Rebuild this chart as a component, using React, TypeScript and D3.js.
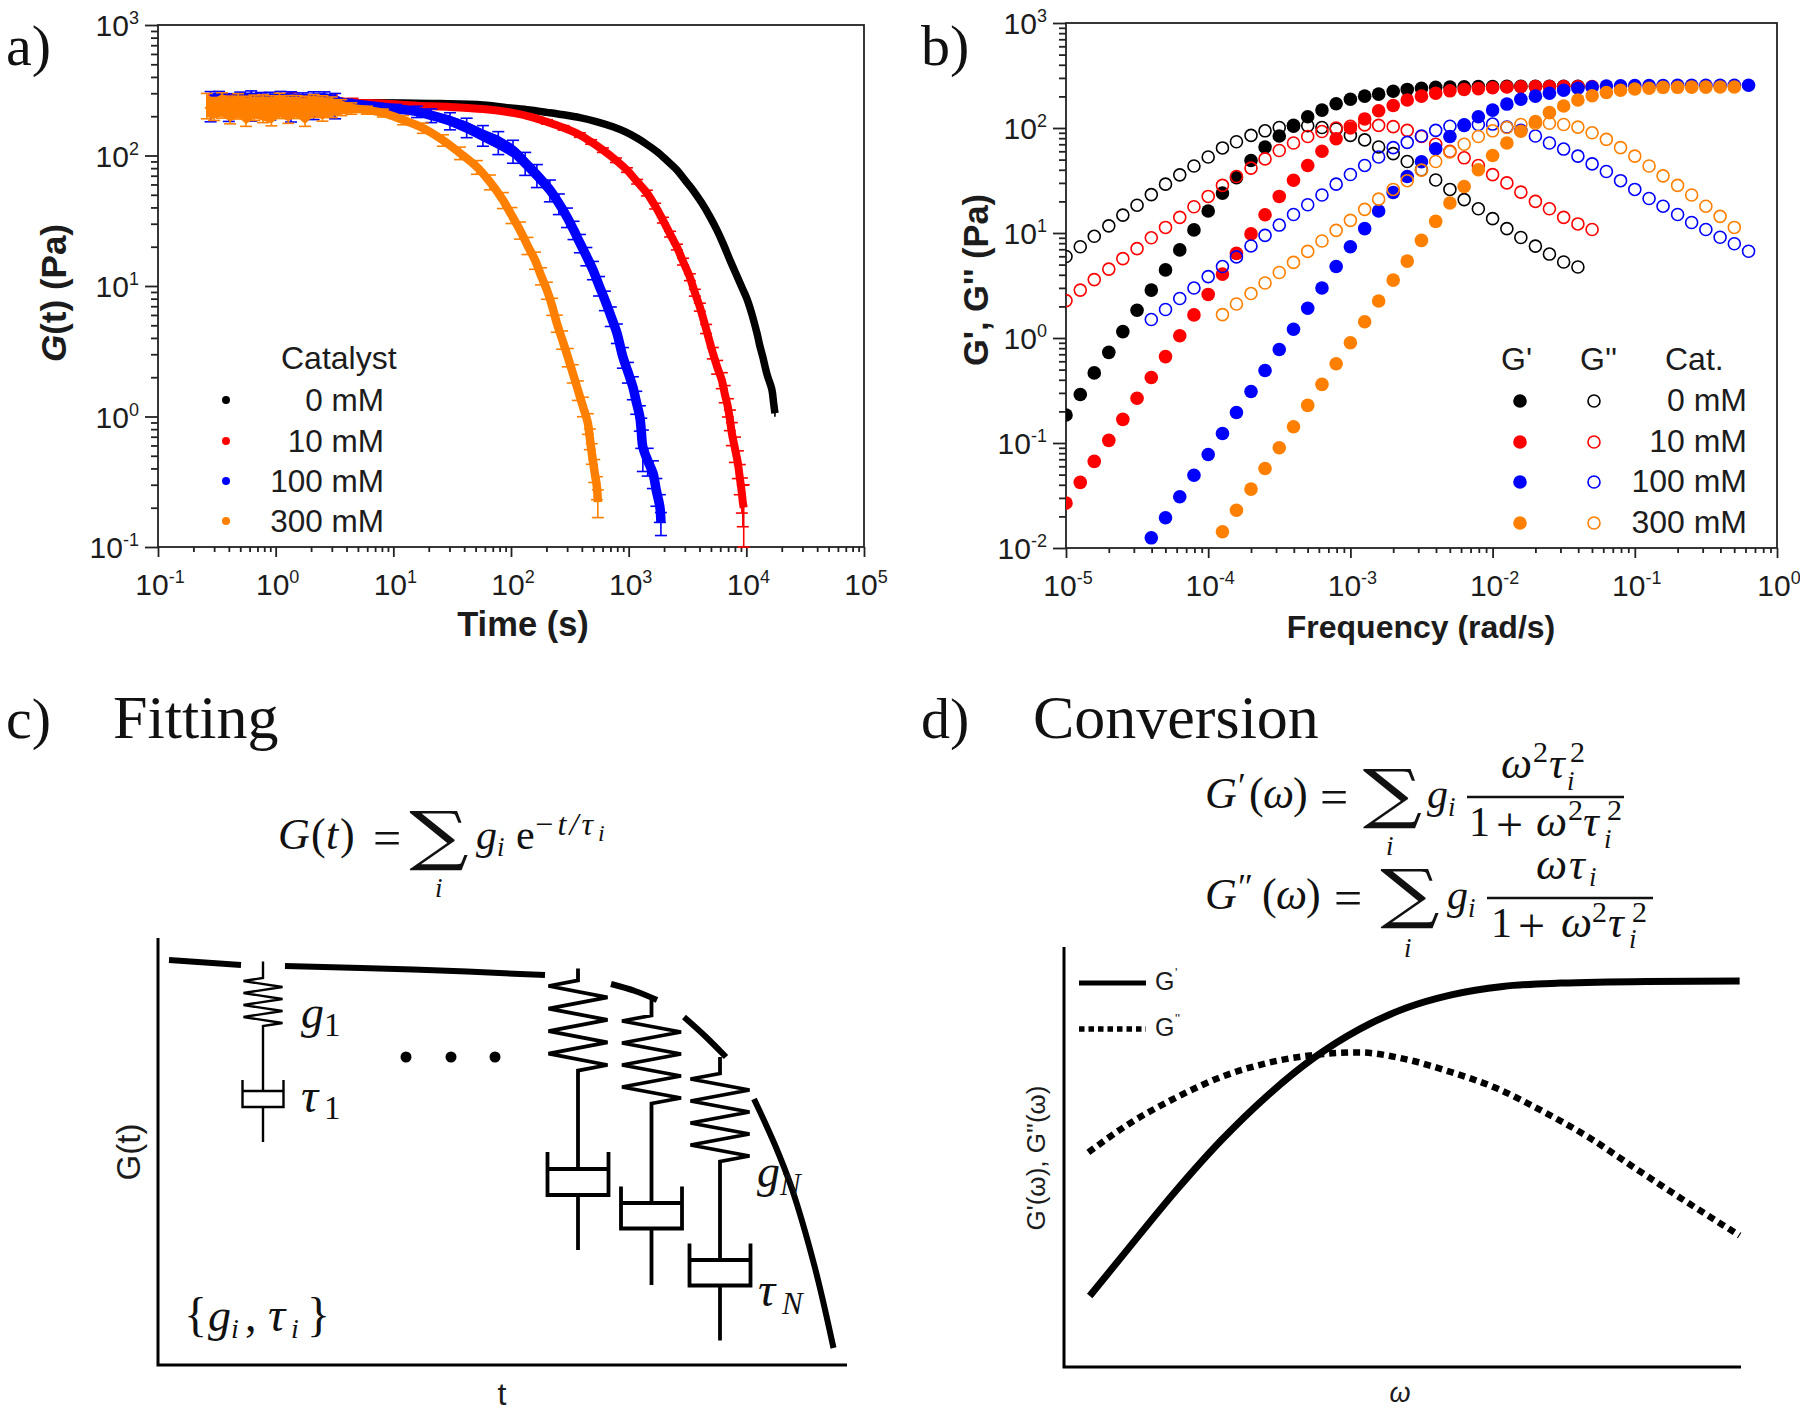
import * as d3 from 'd3';
import { useEffect, useRef } from 'react';

const SANS = '"Liberation Sans", Arial, sans-serif';
const SERIF = '"Liberation Serif", "Times New Roman", serif';
const INK = '#1c1c1c';

const catalystLabels = ['0 mM', '10 mM', '100 mM', '300 mM'];
const catalystColors = ['#000000', '#ff0000', '#0000ff', '#ff8000'];

// panel a: stress relaxation
const timeBlack = [0.3, 0.4, 0.55, 0.75, 1, 1.4, 2, 3, 4.5, 7, 12, 25, 57.7, 104, 150, 202, 280, 385, 530, 734, 950, 1175, 1420, 1738, 2100, 2570, 3000, 3510, 4200, 4900, 5600, 6310, 7300, 8300, 9200, 10100, 11200, 12300, 13000, 13800, 15000, 16500, 17000, 17500];
const gBlack = [258, 262, 250, 262, 255, 260, 250, 256, 254, 254, 252, 250, 244, 230, 222, 214, 205, 195, 182, 166, 151, 136, 122, 107, 92, 77.4, 65, 54.5, 43, 34, 27, 21.4, 15.6, 12, 9.7, 8, 6, 4.37, 3.5, 2.86, 2.1, 1.6, 1.3, 1.06];
const errBlack = [0.14, 0.12, 0.14, 0.1, 0.14, 0.12, 0.14, 0.1, 0.08, 0.05, 0.03, 0.02, 0.02, 0.02, 0.02, 0.02, 0.02, 0.02, 0.02, 0.02, 0.02, 0.02, 0.02, 0.02, 0.02, 0.02, 0.02, 0.02, 0.02, 0.02, 0.02, 0.02, 0.03, 0.03, 0.03, 0.03, 0.03, 0.03, 0.04, 0.04, 0.05, 0.06, 0.06, 0.06];

const timeRed = [0.3, 0.4, 0.55, 0.75, 1, 1.4, 2, 3, 4.5, 8.2, 15.9, 30.3, 57.7, 104, 150, 202, 280, 385, 480, 604, 780, 966, 1180, 1429, 1680, 1954, 2250, 2570, 2900, 3311, 3650, 4027, 4550, 5190, 5650, 6190, 6550, 6970, 7250, 7530, 8000, 8470, 8800, 9160, 9330, 9500];
const gRed = [255, 262, 250, 258, 256, 268, 252, 260, 254, 250, 241, 235.5, 227, 212, 197, 181, 163, 143.6, 127, 110, 92, 77.4, 63, 51.6, 41, 32, 25, 19.9, 15.4, 11.7, 8.9, 6.9, 4.7, 3.07, 2.4, 1.9, 1.5, 1.18, 0.95, 0.748, 0.57, 0.44, 0.34, 0.26, 0.22, 0.2];
const errRed = [0.14, 0.12, 0.16, 0.14, 0.12, 0.13, 0.14, 0.12, 0.08, 0.04, 0.03, 0.03, 0.03, 0.03, 0.03, 0.04, 0.04, 0.04, 0.04, 0.04, 0.04, 0.04, 0.04, 0.05, 0.05, 0.05, 0.05, 0.05, 0.06, 0.06, 0.06, 0.07, 0.08, 0.1, 0.12, 0.14, 0.15, 0.16, 0.18, 0.2, 0.22, 0.24, 0.26, 0.3, 0.35, 0.5];

const timeBlue = [0.28, 0.33, 0.4, 0.5, 0.62, 0.75, 0.9, 1.1, 1.35, 1.7, 2.1, 2.6, 3.2, 4.04, 5.5, 7.26, 10.5, 15.9, 21, 30.3, 42, 57.7, 78, 104, 132, 166, 214, 255, 299, 340, 385, 437, 497, 560, 628, 705, 794, 893, 985, 1086, 1160, 1245, 1280, 1320, 1450, 1607, 1720, 1841, 1880];
const gBlue = [245, 258, 240, 255, 248, 262, 246, 258, 244, 260, 248, 256, 245, 250, 244, 237, 228, 217, 203, 185, 165, 143.6, 127, 109, 88, 71, 54.5, 43, 33.8, 27, 21.4, 17, 13.3, 10.1, 7.8, 5.9, 4.37, 2.86, 2.2, 1.68, 1.3, 0.99, 0.77, 0.583, 0.46, 0.369, 0.27, 0.203, 0.153];
const errBlue = [0.26, 0.2, 0.24, 0.2, 0.26, 0.16, 0.24, 0.2, 0.26, 0.16, 0.24, 0.2, 0.22, 0.08, 0.06, 0.06, 0.08, 0.1, 0.12, 0.15, 0.17, 0.18, 0.2, 0.2, 0.2, 0.2, 0.19, 0.18, 0.17, 0.16, 0.16, 0.16, 0.16, 0.17, 0.17, 0.17, 0.17, 0.18, 0.18, 0.2, 0.2, 0.22, 0.26, 0.35, 0.24, 0.24, 0.24, 0.24, 0.2];

const timeOrange = [0.26, 0.3, 0.35, 0.41, 0.48, 0.56, 0.66, 0.78, 0.92, 1.08, 1.28, 1.5, 1.78, 2.1, 2.5, 3, 3.6, 4.4, 5.97, 8.16, 12.1, 17.8, 26.4, 36.8, 51.3, 66.2, 85.3, 101, 119, 138, 160, 180, 202, 224, 245, 272, 304, 335, 370, 408, 450, 468, 486, 510, 537, 547];
const gOrange = [245, 232, 248, 230, 244, 226, 238, 235, 228, 246, 232, 240, 226, 244, 235, 238, 235, 230, 223, 212, 187, 162.5, 131, 104.5, 81.6, 62.7, 45.6, 35, 26.9, 20.5, 15.8, 12, 9.3, 7, 5.2, 3.9, 2.86, 2.15, 1.6, 1.2, 0.89, 0.68, 0.525, 0.39, 0.288, 0.221];
const errOrange = [0.22, 0.2, 0.22, 0.24, 0.22, 0.26, 0.22, 0.24, 0.26, 0.22, 0.24, 0.2, 0.26, 0.2, 0.22, 0.18, 0.14, 0.1, 0.07, 0.07, 0.08, 0.09, 0.1, 0.11, 0.12, 0.13, 0.14, 0.14, 0.15, 0.15, 0.15, 0.15, 0.15, 0.15, 0.15, 0.16, 0.16, 0.16, 0.17, 0.17, 0.18, 0.18, 0.18, 0.2, 0.2, 0.24];

const relaxSeries = [
  { t: timeBlack, g: gBlack, e: errBlack, w: 7.5 },
  { t: timeRed, g: gRed, e: errRed, w: 8 },
  { t: timeBlue, g: gBlue, e: errBlue, w: 9.5 },
  { t: timeOrange, g: gOrange, e: errOrange, w: 8.5 },
];

// panel b: frequency sweep, ten points per decade
const freq = [1e-5, 1.26e-5, 1.58e-5, 2e-5, 2.51e-5, 3.16e-5, 3.98e-5, 5.01e-5, 6.31e-5, 7.94e-5, 1e-4, 1.26e-4, 1.58e-4, 2e-4, 2.51e-4, 3.16e-4, 3.98e-4, 5.01e-4, 6.31e-4, 7.94e-4, 1e-3, 1.26e-3, 1.58e-3, 2e-3, 2.51e-3, 3.16e-3, 3.98e-3, 5.01e-3, 6.31e-3, 7.94e-3, 1e-2, 1.26e-2, 1.58e-2, 2e-2, 2.51e-2, 3.16e-2, 3.98e-2, 5.01e-2, 6.31e-2, 7.94e-2, 0.1, 0.126, 0.158, 0.2, 0.251, 0.316, 0.398, 0.501, 0.631];
const startIndex = [0, 0, 6, 11];

const storageBlack = [0.185, 0.29, 0.465, 0.73, 1.15, 1.84, 2.86, 4.45, 6.9, 10.7, 16.2, 24, 33.6, 49, 65.8, 84, 106, 128, 148, 170, 188, 201, 210, 224, 233, 239, 244, 246, 247, 248, 248, 249, 249, 250, 250, 250, 250];
const lossBlack = [5.97, 7.4, 9.3, 11.7, 14.8, 18.4, 23.2, 29.2, 35.8, 43.5, 53, 64.6, 74, 85, 94, 101, 104, 105, 101, 98, 85, 77, 66, 57, 48, 40, 32, 26, 20.8, 17, 13.7, 11, 9.05, 7.5, 6.3, 5.3, 4.74];
const storageRed = [0.0268, 0.0422, 0.0668, 0.106, 0.168, 0.267, 0.42, 0.665, 1.05, 1.66, 2.6, 4.06, 6.4, 9.8, 14.9, 22.3, 31.8, 44, 60, 79, 100, 122, 146, 164, 185, 201, 214, 226, 233, 237, 242, 246, 247, 248, 248, 248, 248, 248];
const lossRed = [2.27, 2.86, 3.6, 4.53, 5.7, 7.1, 9, 11.3, 14.1, 17.8, 22.3, 28.4, 34.5, 41.5, 50.8, 61, 72, 83, 92.5, 100, 104, 107, 106, 103, 95, 83, 70, 60, 52, 44, 36, 30, 24.5, 20, 17, 14.1, 12.2, 10.8];
const storageBlue = [0.0125, 0.0194, 0.0308, 0.0493, 0.0776, 0.123, 0.195, 0.309, 0.49, 0.778, 1.21, 1.92, 2.99, 4.79, 7.4, 11, 16.2, 24.3, 34.5, 47.7, 63.4, 83, 106, 128, 148, 169, 188, 201, 214, 229, 239, 246, 251, 252, 253, 254, 254, 255, 255, 255, 255, 255, 255];
const lossBlue = [1.5, 1.87, 2.38, 2.99, 3.84, 4.79, 5.92, 7.53, 9.49, 11.9, 15, 18.6, 23, 29.2, 36.1, 44, 53, 65, 73, 84, 95, 104, 107, 108, 109, 102, 95, 84, 72, 63, 54, 45.5, 38.5, 31.5, 26, 21.3, 18, 15, 12.6, 10.8, 9.1, 7.9, 6.7];
const storageOrange = [0.0143, 0.0229, 0.0364, 0.0571, 0.09, 0.143, 0.228, 0.362, 0.569, 0.902, 1.43, 2.25, 3.56, 5.4, 8.5, 12.9, 19.3, 27.7, 40, 54.7, 72, 93, 115, 140, 162, 185, 203, 218, 229, 235, 239, 244, 244, 245, 245, 246, 246];
const lossOrange = [1.67, 2.11, 2.65, 3.34, 4.21, 5.25, 6.68, 8.4, 10.6, 13.2, 16.8, 21, 26, 31.5, 39.7, 48, 59, 70, 83, 94, 101, 108, 111, 111, 108, 102, 90, 78, 65, 54, 43.5, 35, 28.4, 23, 18, 14.4, 11.3];

const storageSeries = [storageBlack, storageRed, storageBlue, storageOrange];
const lossSeries = [lossBlack, lossRed, lossBlue, lossOrange];

// panel c: sketched relaxation curve, offsets from the axis corner
const sketchSegX = [[11, 83], [127, 255, 387], [453, 477, 499], [526, 547, 568], [596, 617, 634, 657, 675.5]];
const sketchSegY = [[405, 400], [399, 395.5, 390], [381, 374, 365], [348, 329, 308], [266, 220, 176, 97, 17]];

// spring + dashpot elements
const elemCenter = [105, 420, 493.5, 562];
const elemTop = [403.5, 396.5, 365, 308];
const coilTop = [384, 379, 344, 286];
const coilBottom = [342, 300, 267, 209];
const pistonAt = [274, 196, 162, 105];
const cupTop = [285, 213, 178.5, 121.5];
const cupBottom = [258, 170, 136.5, 79.5];
const rodEnd = [223, 115, 80, 24.5];
const elemHalf = [19.5, 29.5, 29.5, 29.5];
const elemStroke = [2.4, 3.8, 3.8, 3.8];
const ellipsisX = [248, 293, 337];

// panel d: sketched moduli, percent of the axes
const omegaStorage = [3.8, 9.7, 16.5, 23.3, 30.1, 36.9, 43.6, 50.4, 57.2, 64.8, 73.3, 86, 99.8];
const modStorage = [16.9, 28.6, 41.9, 54.1, 64.7, 73.6, 80.4, 85.4, 88.6, 90.6, 91.4, 91.8, 91.9];
const omegaLoss = [3.6, 9.7, 16.5, 23.3, 30.1, 36.9, 43.6, 50.4, 57.2, 64, 70.8, 77.5, 84.3, 91.1, 99.8];
const modLoss = [51.1, 58, 64.1, 69.1, 72.4, 74.3, 74.9, 73.3, 70.2, 66.3, 60.8, 54.7, 47.4, 40.2, 31.3];

type Sel = d3.Selection<any, any, any, any>;

function label(g: Sel, x: number, y: number, s: string, size: number, opts: any = {}) {
  return g
    .append('text')
    .attr('x', x)
    .attr('y', y)
    .attr('font-family', opts.family || SERIF)
    .attr('font-size', size)
    .attr('font-style', opts.italic ? 'italic' : 'normal')
    .attr('font-weight', opts.bold ? 'bold' : 'normal')
    .attr('text-anchor', opts.anchor || 'start')
    .attr('fill', opts.fill || '#111')
    .text(s);
}

// big summation sign, squeezed wider than the font draws it
function sumSign(g: Sel, cx: number, baseline: number) {
  label(g, 0, 0, '∑', 65, { anchor: 'middle', family: '"DejaVu Serif"' }).attr(
    'transform',
    `translate(${cx},${baseline}) scale(1.28,1)`,
  );
}

function powerLabel(g: Sel, x: number, y: number, exp: number, anchor: string) {
  const t = g
    .append('text')
    .attr('x', x)
    .attr('y', y)
    .attr('font-family', SANS)
    .attr('font-size', 30)
    .attr('fill', INK)
    .attr('text-anchor', anchor);
  t.append('tspan').text('10');
  t.append('tspan').attr('dy', -12).attr('font-size', 18).text(`${exp}`);
}

function logFrame(g: Sel, x: any, y: any) {
  const [x0, x1] = x.range();
  const [y0, y1] = y.range();
  const decade = (v: number) => Math.abs(Math.log10(v) - Math.round(Math.log10(v))) < 1e-6;
  const xTicks: number[] = x.ticks();
  const yTicks: number[] = y.ticks();

  const axes: [any, string, number[], number][] = [
    [d3.axisBottom(x), `translate(0,${y0})`, xTicks.filter((v) => !decade(v)), 5],
    [d3.axisBottom(x), `translate(0,${y0})`, xTicks.filter(decade), 10],
    [d3.axisLeft(y), `translate(${x0},0)`, yTicks.filter((v) => !decade(v)), 7],
    [d3.axisLeft(y), `translate(${x0},0)`, yTicks.filter(decade), 13],
  ];
  axes.forEach(([axis, tr, vals, size]) => {
    const a = g.append('g').attr('transform', tr).call(axis.tickValues(vals).tickSize(size).tickFormat(() => ''));
    a.select('.domain').remove();
    a.selectAll('line').attr('stroke', '#222').attr('stroke-width', 1.8);
  });

  g.append('rect')
    .attr('x', x0)
    .attr('y', y1)
    .attr('width', x1 - x0)
    .attr('height', y0 - y1)
    .attr('fill', 'none')
    .attr('stroke', '#222')
    .attr('stroke-width', 1.8);

  xTicks.filter(decade).forEach((v) => {
    powerLabel(g, x(v) + 2, y0 + 48, Math.round(Math.log10(v)), 'middle');
  });
  yTicks.filter(decade).forEach((v) => {
    powerLabel(g, x0 - 19, y(v) + 11, Math.round(Math.log10(v)), 'end');
  });
}

function drawRelaxation(svg: Sel) {
  const g = svg.append('g');
  const x = d3.scaleLog().domain([1e-1, 1e5]).range([158, 864]);
  const y = d3.scaleLog().domain([1e-1, 1e3]).range([547, 25]);
  logFrame(g, x, y);

  relaxSeries.forEach((s, k) => {
    const color = catalystColors[k];
    const idx = d3.range(s.t.length);
    const sg = g.append('g');
    // the early noisy stretch fills in solid, later the caps stick out of the band
    const fillShare = (i: number) => (s.t[i] < 5 ? 0.88 : 0.6);
    sg.append('path')
      .attr(
        'd',
        d3
          .area<number>()
          .x((i) => x(s.t[i]))
          .y0((i) => y(s.g[i] * (1 - s.e[i] * fillShare(i))))
          .y1((i) => y(s.g[i] * (1 + s.e[i] * fillShare(i))))(idx),
      )
      .attr('fill', color);
    sg.append('path')
      .attr('d', d3.line<number>().x((i) => x(s.t[i])).y((i) => y(s.g[i])).curve(d3.curveCatmullRom)(idx))
      .attr('fill', 'none')
      .attr('stroke', color)
      .attr('stroke-width', s.w);
    const bars = sg.selectAll('g').data(idx).enter().append('g').attr('stroke', color).attr('stroke-width', 1.6);
    bars
      .append('line')
      .attr('x1', (i) => x(s.t[i]))
      .attr('x2', (i) => x(s.t[i]))
      .attr('y1', (i) => y(s.g[i] * (1 - s.e[i])))
      .attr('y2', (i) => y(s.g[i] * (1 + s.e[i])));
    [-1, 1].forEach((sign) => {
      if (k === 0) return;
      bars
        .append('line')
        .attr('x1', (i) => x(s.t[i]) - 6)
        .attr('x2', (i) => x(s.t[i]) + 6)
        .attr('y1', (i) => y(s.g[i] * (1 + sign * s.e[i])))
        .attr('y2', (i) => y(s.g[i] * (1 + sign * s.e[i])));
    });
  });

  label(g, 281, 369, 'Catalyst', 32, { family: SANS, fill: INK });
  const rows = [400, 441, 481, 521];
  catalystLabels.forEach((c, i) => {
    g.append('circle').attr('cx', 226).attr('cy', rows[i]).attr('r', 4).attr('fill', catalystColors[i]);
    label(g, 384, rows[i] + 11, c, 31.5, { family: SANS, anchor: 'end', fill: INK });
  });

  label(g, 523, 636, 'Time (s)', 34.5, { family: SANS, bold: true, anchor: 'middle', fill: INK });
  const yt = label(g, 0, 0, '', 35, { family: SANS, bold: true, anchor: 'middle', fill: INK }).attr(
    'transform',
    'translate(66,293) rotate(-90)',
  );
  yt.append('tspan').attr('font-style', 'italic').text('G');
  yt.append('tspan').text('(t) (Pa)');
}

function drawSweep(svg: Sel) {
  const g = svg.append('g');
  const x = d3.scaleLog().domain([1e-5, 1e0]).range([1066, 1777]);
  const y = d3.scaleLog().domain([1e-2, 1e3]).range([548, 23]);
  logFrame(g, x, y);

  svg
    .append('clipPath')
    .attr('id', 'sweep-clip')
    .append('rect')
    .attr('x', 1066)
    .attr('y', 23)
    .attr('width', 711)
    .attr('height', 525);
  const marks = g.append('g').attr('clip-path', 'url(#sweep-clip)');

  catalystColors.forEach((color, k) => {
    const start = startIndex[k];
    marks
      .append('g')
      .selectAll('circle')
      .data(storageSeries[k])
      .enter()
      .append('circle')
      .attr('cx', (_, i) => x(freq[start + i]))
      .attr('cy', (d) => y(d))
      .attr('r', 6.8)
      .attr('fill', color);
    marks
      .append('g')
      .selectAll('circle')
      .data(lossSeries[k])
      .enter()
      .append('circle')
      .attr('cx', (_, i) => x(freq[start + i]))
      .attr('cy', (d) => y(d))
      .attr('r', 6)
      .attr('fill', 'none')
      .attr('stroke', color)
      .attr('stroke-width', 1.6);
  });

  label(g, 1501, 370, "G'", 32, { family: SANS, fill: INK });
  label(g, 1580, 370, "G''", 32, { family: SANS, fill: INK });
  label(g, 1665, 370, 'Cat.', 32, { family: SANS, fill: INK });
  const rows = [401, 442, 482, 523];
  catalystLabels.forEach((c, i) => {
    g.append('circle').attr('cx', 1520).attr('cy', rows[i]).attr('r', 6.8).attr('fill', catalystColors[i]);
    g.append('circle')
      .attr('cx', 1594)
      .attr('cy', rows[i])
      .attr('r', 6)
      .attr('fill', 'none')
      .attr('stroke', catalystColors[i])
      .attr('stroke-width', 1.6);
    label(g, 1747, rows[i] + 10, c, 32, { family: SANS, anchor: 'end', fill: INK });
  });

  label(g, 1421, 638, 'Frequency (rad/s)', 32, { family: SANS, bold: true, anchor: 'middle', fill: INK });
  label(g, 0, 0, "G', G'' (Pa)", 34.5, { family: SANS, bold: true, anchor: 'middle', fill: INK }).attr(
    'transform',
    'translate(988,280) rotate(-90)',
  );
}

function drawFitting(svg: Sel) {
  const g = svg.append('g');
  const x = d3.scaleLinear().domain([0, 689]).range([158, 847]);
  const y = d3.scaleLinear().domain([0, 427]).range([1365, 938]);

  g.append('path')
    .attr('d', d3.line()([[x(0), y(427)], [x(0), y(0)], [x(689), y(0)]]))
    .attr('fill', 'none')
    .attr('stroke', '#000')
    .attr('stroke-width', 3);

  const seg = d3
    .line<[number, number]>()
    .x((d) => x(d[0]))
    .y((d) => y(d[1]))
    .curve(d3.curveCatmullRom);
  sketchSegX.forEach((xs, i) => {
    g.append('path')
      .attr('d', seg(xs.map((v, j) => [v, sketchSegY[i][j]] as [number, number])))
      .attr('fill', 'none')
      .attr('stroke', '#000')
      .attr('stroke-width', 6);
  });

  elemCenter.forEach((cx, i) => {
    const half = elemHalf[i];
    const teeth = 7;
    const step = (coilTop[i] - coilBottom[i]) / teeth;
    const pts: [number, number][] = [[cx, elemTop[i]], [cx, coilTop[i] + step / 2]];
    for (let n = 0; n <= teeth; n += 1) {
      pts.push([cx + (n % 2 === 0 ? -half : half), coilTop[i] - n * step]);
    }
    pts.push([cx, coilBottom[i] - step / 2], [cx, pistonAt[i]]);
    const el = g.append('g').attr('fill', 'none').attr('stroke', '#000').attr('stroke-width', elemStroke[i]);
    const ln = d3.line<[number, number]>().x((d) => x(d[0])).y((d) => y(d[1]));
    el.append('path').attr('d', ln(pts));
    el.append('path').attr(
      'd',
      ln([
        [cx - half - 1, cupTop[i]],
        [cx - half - 1, cupBottom[i]],
        [cx + half + 1, cupBottom[i]],
        [cx + half + 1, cupTop[i]],
      ]),
    );
    el.append('path').attr('d', ln([[cx - half - 1, pistonAt[i]], [cx + half + 1, pistonAt[i]]]));
    el.append('path').attr('d', ln([[cx, cupBottom[i]], [cx, rodEnd[i]]]));
  });

  g.selectAll('circle.dot')
    .data(ellipsisX)
    .enter()
    .append('circle')
    .attr('cx', (d) => x(d))
    .attr('cy', y(308))
    .attr('r', 5.5)
    .attr('fill', '#000');

  const it = { italic: true };
  label(g, 6, 738, 'c)', 58);
  label(g, 113, 738, 'Fitting', 62);

  label(g, 278, 849, 'G', 44, it);
  label(g, 311, 849, '(', 44);
  label(g, 326, 849, 't', 44, it);
  label(g, 340, 849, ')', 44);
  label(g, 373, 855, '=', 50);
  sumSign(g, 439, 858);
  label(g, 435, 897, 'i', 27, it);
  label(g, 476, 849, 'g', 42, it);
  label(g, 497, 856, 'i', 27, it);
  label(g, 516, 849, 'e', 42);
  label(g, 533, 835, '−t/τ', 32, it).attr('letter-spacing', 3);
  label(g, 598, 841, 'i', 24, it);

  label(g, 301, 1028, 'g', 46, it);
  label(g, 324, 1036, '1', 33);
  label(g, 301, 1112, 'τ', 48, it);
  label(g, 324, 1119, '1', 33);
  label(g, 757, 1187, 'g', 46, it);
  label(g, 780, 1195, 'N', 31, it);
  label(g, 758, 1306, 'τ', 48, it);
  label(g, 782, 1314, 'N', 31, it);

  label(g, 184, 1331, '{', 48);
  label(g, 208, 1331, 'g', 46, it);
  label(g, 231, 1338, 'i', 28, it);
  label(g, 245, 1331, ',', 46);
  label(g, 268, 1331, 'τ', 48, it);
  label(g, 291, 1338, 'i', 28, it);
  label(g, 307, 1331, '}', 48);

  label(g, 0, 0, 'G(t)', 33, { family: SANS, anchor: 'middle', fill: INK }).attr(
    'transform',
    'translate(140,1152) rotate(-90)',
  );
  label(g, 502, 1405, 't', 32, { family: SANS, anchor: 'middle', fill: INK });
}

function drawConversion(svg: Sel) {
  const g = svg.append('g');
  const x = d3.scaleLinear().domain([0, 100]).range([1064, 1741]);
  const y = d3.scaleLinear().domain([0, 100]).range([1367, 947]);

  g.append('path')
    .attr('d', d3.line()([[x(0), y(100)], [x(0), y(0)], [x(100), y(0)]]))
    .attr('fill', 'none')
    .attr('stroke', '#000')
    .attr('stroke-width', 3);

  const curve = (xs: number[], ys: number[]) =>
    d3
      .line<number>()
      .x((_, i) => x(xs[i]))
      .y((d) => y(d))
      .curve(d3.curveMonotoneX)(ys);

  g.append('path')
    .attr('d', curve(omegaStorage, modStorage))
    .attr('fill', 'none')
    .attr('stroke', '#000')
    .attr('stroke-width', 7);
  g.append('path')
    .attr('d', curve(omegaLoss, modLoss))
    .attr('fill', 'none')
    .attr('stroke', '#000')
    .attr('stroke-width', 6.5)
    .attr('stroke-dasharray', '7 5');

  g.append('line').attr('x1', 1079).attr('x2', 1146).attr('y1', 983).attr('y2', 983).attr('stroke', '#000').attr('stroke-width', 5);
  g.append('line')
    .attr('x1', 1079)
    .attr('x2', 1146)
    .attr('y1', 1029)
    .attr('y2', 1029)
    .attr('stroke', '#000')
    .attr('stroke-width', 5.5)
    .attr('stroke-dasharray', '5.5 4');
  label(g, 1155, 990, 'G', 25, { family: SANS, fill: INK });
  label(g, 1175, 977, "'", 13, { family: SANS, fill: INK });
  label(g, 1155, 1036, 'G', 25, { family: SANS, fill: INK });
  label(g, 1175, 1023, "''", 13, { family: SANS, fill: INK });

  label(g, 0, 0, "G'(ω), G''(ω)", 26, { family: SANS, anchor: 'middle', fill: INK }).attr(
    'transform',
    'translate(1045,1158) rotate(-90)',
  );
  label(g, 1400, 1402, 'ω', 27, { family: SANS, italic: true, anchor: 'middle', fill: INK });

  const it = { italic: true };
  label(g, 921, 738, 'd)', 58);
  label(g, 1033, 738, 'Conversion', 62);

  // G'(w)
  label(g, 1205, 808, 'G', 44, it);
  label(g, 1238, 798, '′', 36);
  label(g, 1249, 808, '(', 44);
  label(g, 1263, 808, 'ω', 44, it);
  label(g, 1293, 808, ')', 44);
  label(g, 1320, 814, '=', 50);
  sumSign(g, 1392.5, 816);
  label(g, 1386, 855, 'i', 27, it);
  label(g, 1427, 808, 'g', 42, it);
  label(g, 1448, 816, 'i', 27, it);
  g.append('line').attr('x1', 1467).attr('x2', 1624).attr('y1', 797).attr('y2', 797).attr('stroke', '#111').attr('stroke-width', 2.5);
  label(g, 1501, 778, 'ω', 44, it);
  label(g, 1533, 762, '2', 30);
  label(g, 1549, 778, 'τ', 44, it);
  label(g, 1570, 762, '2', 30);
  label(g, 1567, 790, 'i', 27, it);
  label(g, 1469, 836, '1', 42);
  label(g, 1496, 841, '+', 48);
  label(g, 1536, 836, 'ω', 44, it);
  label(g, 1568, 820, '2', 30);
  label(g, 1583, 836, 'τ', 44, it);
  label(g, 1607, 820, '2', 30);
  label(g, 1604, 848, 'i', 27, it);

  // G''(w)
  label(g, 1205, 909, 'G', 44, it);
  label(g, 1238, 899, '″', 36);
  label(g, 1262, 909, '(', 44);
  label(g, 1276, 909, 'ω', 44, it);
  label(g, 1306, 909, ')', 44);
  label(g, 1334, 915, '=', 50);
  sumSign(g, 1410, 916);
  label(g, 1404, 957, 'i', 27, it);
  label(g, 1447, 909, 'g', 42, it);
  label(g, 1468, 917, 'i', 27, it);
  g.append('line').attr('x1', 1487).attr('x2', 1653).attr('y1', 898).attr('y2', 898).attr('stroke', '#111').attr('stroke-width', 2.5);
  label(g, 1536, 879, 'ω', 44, it);
  label(g, 1569, 879, 'τ', 44, it);
  label(g, 1589, 886, 'i', 27, it);
  label(g, 1491, 937, '1', 42);
  label(g, 1518, 942, '+', 48);
  label(g, 1561, 937, 'ω', 44, it);
  label(g, 1592, 922, '2', 30);
  label(g, 1608, 937, 'τ', 44, it);
  label(g, 1632, 922, '2', 30);
  label(g, 1629, 948, 'i', 27, it);
}

const App = () => {
  const svgRef = useRef<SVGSVGElement>(null);

  useEffect(() => {
    const svg = d3.select(svgRef.current);
    svg.selectAll('*').remove();
    drawRelaxation(svg);
    drawSweep(svg);
    drawFitting(svg);
    drawConversion(svg);
    const g = svg.append('g');
    label(g, 6, 65, 'a)', 58);
    label(g, 921, 65, 'b)', 58);
  }, []);

  return (
    <svg
      ref={svgRef}
      width={1800}
      height={1412}
      style={{ position: 'absolute', left: 0, top: 0, background: '#fff' }}
    />
  );
};

export default App;
